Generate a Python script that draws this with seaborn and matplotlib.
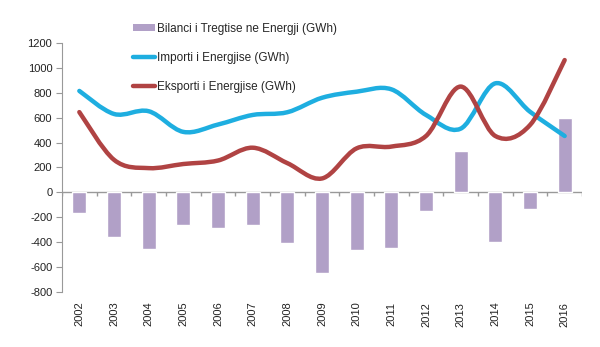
import numpy as np
import pandas as pd
import seaborn as sns
import matplotlib
matplotlib.use("Agg")
import matplotlib.pyplot as plt
from matplotlib.path import Path
from matplotlib.patches import PathPatch, Patch
from matplotlib.lines import Line2D

years = [str(y) for y in range(2002, 2017)]
bilanci = [-165, -355, -455, -265, -285, -265, -410, -650, -460, -445, -150, 330, -400, -130, 600]
importi = [815, 630, 652, 486, 545, 622, 644, 760, 809, 828, 622, 512, 876, 648, 453]
eksporti = [645, 262, 195, 228, 256, 359, 235, 112, 354, 368, 453, 850, 453, 541, 1063]

lbl_bil = "Bilanci i Tregtise ne Energji (GWh)"
lbl_imp = "Importi i Energjise (GWh)"
lbl_eks = "Eksporti i Energjise (GWh)"

c_bar = "#b1a0c7"
c_imp = "#1eaee0"
c_eks = "#b04343"

sns.set_style("white")
plt.rcParams["font.family"] = ["Liberation Sans", "DejaVu Sans"]
plt.rcParams["axes.unicode_minus"] = False

df = pd.DataFrame({"year": years, "bilanci": bilanci})

fig = plt.figure(figsize=(6, 3.47), dpi=100)
ax = fig.add_axes([62 / 600, 1 - 292 / 347, 520 / 600, 249 / 347])

sns.barplot(data=df, x="year", y="bilanci", color=c_bar, width=0.4,
            saturation=1, ax=ax, zorder=2)


def smooth_path(ys):
    # excel style smoothed line: catmull-rom segments as cubic beziers
    pts = np.column_stack([np.arange(len(ys)), ys]).astype(float)
    verts = [pts[0]]
    codes = [Path.MOVETO]
    n = len(pts)
    for i in range(n - 1):
        p0 = pts[max(i - 1, 0)]
        p1 = pts[i]
        p2 = pts[i + 1]
        p3 = pts[min(i + 2, n - 1)]
        verts += [p1 + (p2 - p0) / 6, p2 - (p3 - p1) / 6, p2]
        codes += [Path.CURVE4] * 3
    return Path(verts, codes)


for ys, col in [(importi, c_imp), (eksporti, c_eks)]:
    ax.add_patch(PathPatch(smooth_path(ys), facecolor="none", edgecolor=col,
                           lw=3.2, capstyle="round", joinstyle="round", zorder=3))

ax.set_xlim(-0.5, 14.5)
ax.set_ylim(-800, 1200)
ax.set_yticks(range(-800, 1201, 200))
ax.set_xlabel("")
ax.set_ylabel("")

# zero line with category tick marks
ax.axhline(0, color="#999999", lw=1, zorder=1)
ax.vlines(np.arange(-0.5, 15, 1), -28, 0, color="#999999", lw=1, zorder=1)

for s in ["top", "right", "bottom"]:
    ax.spines[s].set_visible(False)
ax.spines["left"].set_color("#999999")
ax.tick_params(axis="y", left=True, length=4, color="#999999", labelsize=8,
               labelcolor="#222222", pad=3)
ax.tick_params(axis="x", length=0, labelsize=8, labelcolor="#222222", pad=7)
plt.setp(ax.get_xticklabels(), rotation=90)

handles = [
    Patch(facecolor=c_bar, edgecolor="none"),
    Line2D([], [], color=c_imp, lw=3.2),
    Line2D([], [], color=c_eks, lw=3.2),
]
fig.legend(handles, [lbl_bil, lbl_imp, lbl_eks], loc="upper left",
           bbox_to_anchor=(122 / 600, 1 - 12 / 347), frameon=False,
           fontsize=8.5, handlelength=1.9, handletextpad=0.15,
           labelspacing=1.45, handleheight=0.6)

fig.savefig("out.png", dpi=100)
